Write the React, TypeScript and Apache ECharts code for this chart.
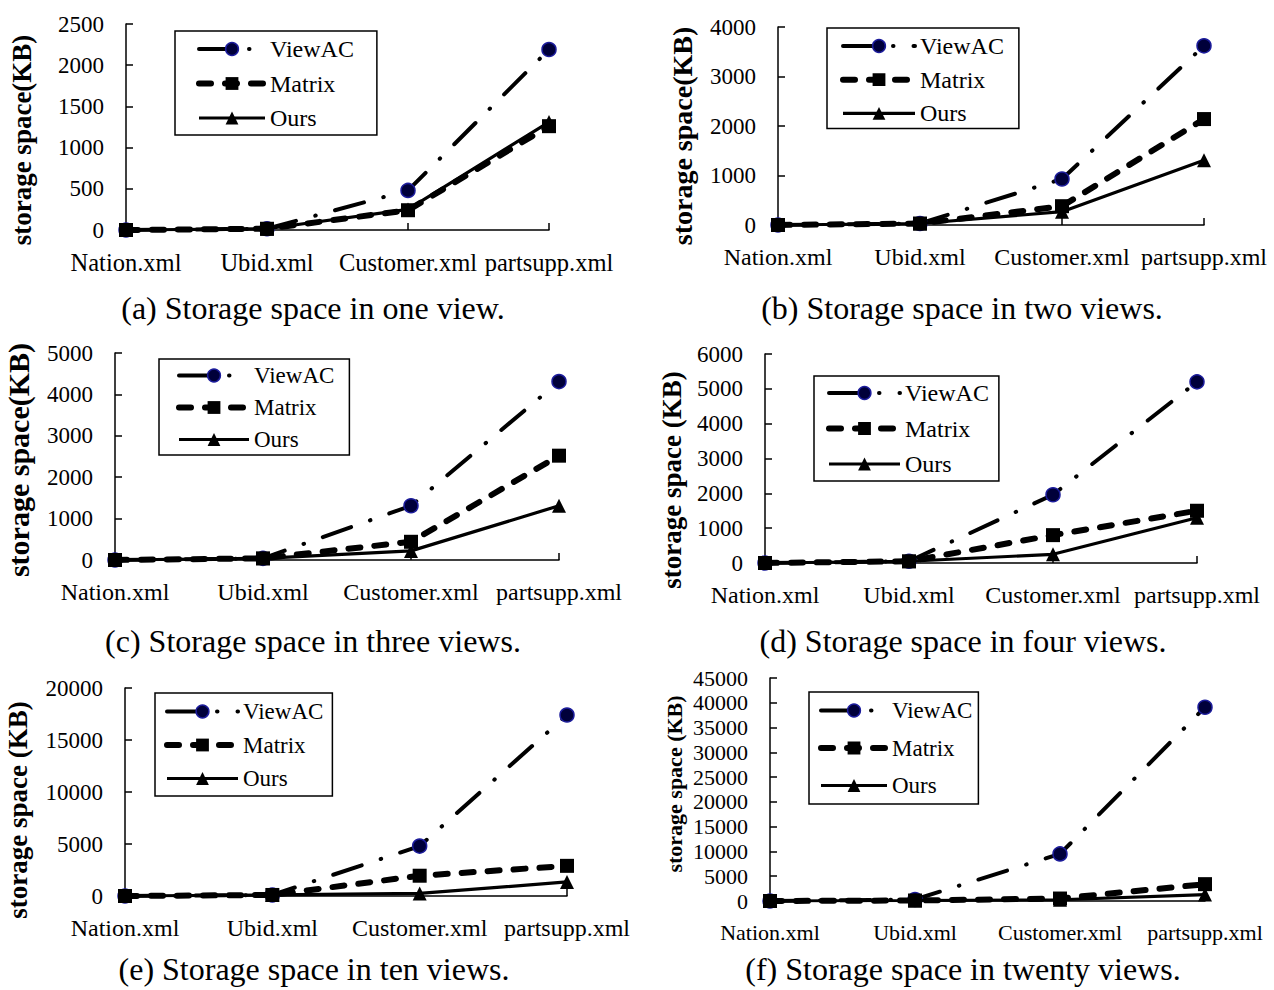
import React, { useEffect, useRef } from "react";
import * as echarts from "echarts";

const FONT = '"Liberation Serif", "Times New Roman", serif';

const categories = ["Nation.xml", "Ubid.xml", "Customer.xml", "partsupp.xml"];
const seriesNames = ["ViewAC", "Matrix", "Ours"];

// values per panel (KB)
const viewAC_a = [0, 15, 480, 2190];
const matrix_a = [0, 15, 240, 1260];
const ours_a = [0, 15, 250, 1310];

const viewAC_b = [0, 30, 930, 3620];
const matrix_b = [0, 30, 380, 2140];
const ours_b = [0, 30, 270, 1310];

const viewAC_c = [0, 40, 1310, 4310];
const matrix_c = [0, 40, 440, 2520];
const ours_c = [0, 40, 220, 1310];

const viewAC_d = [0, 50, 1960, 5200];
const matrix_d = [0, 50, 800, 1500];
const ours_d = [0, 50, 250, 1300];

const viewAC_e = [0, 100, 4800, 17400];
const matrix_e = [0, 100, 1950, 2900];
const ours_e = [0, 100, 250, 1350];

const viewAC_f = [0, 300, 9500, 39100];
const matrix_f = [0, 100, 500, 3400];
const ours_f = [0, 100, 250, 1300];

// y-axis ranges
const yMaxes = [2500, 4000, 5000, 6000, 20000, 45000];
const yIntervals = [500, 1000, 1000, 1000, 5000, 5000];

const captions = [
  "(a) Storage space in one view.",
  "(b) Storage space in two views.",
  "(c) Storage space in three views.",
  "(d) Storage space in four views.",
  "(e) Storage space in ten views.",
  "(f) Storage space in twenty views.",
];
const yNames = [
  "storage space(KB)",
  "storage space(KB)",
  "storage space(KB)",
  "storage space (KB)",
  "storage space (KB)",
  "storage space (KB)",
];

const panelData = [
  [viewAC_a, matrix_a, ours_a],
  [viewAC_b, matrix_b, ours_b],
  [viewAC_c, matrix_c, ours_c],
  [viewAC_d, matrix_d, ours_d],
  [viewAC_e, matrix_e, ours_e],
  [viewAC_f, matrix_f, ours_f],
];

// layout (positions/sizes only)
const layout = [
  { grid: { left: 126, top: 24, width: 423, height: 206 }, xFont: 24.5, yFont: 23, name: { x: 22, y: 140, size: 27 }, cap: { x: 313, y: 308 },
    lg: { left: 175, top: 31, padding: [6, 23, 5, 21], gap: 10.5, iw: 66, font: 24 } },
  { grid: { left: 778, top: 27, width: 426, height: 198 }, xFont: 24, yFont: 23, name: { x: 682, y: 136, size: 28 }, cap: { x: 962, y: 308 },
    lg: { left: 827, top: 28, padding: [6, 15, 3, 13], gap: 9.7, iw: 72, font: 24 } },
  { grid: { left: 115, top: 353, width: 444, height: 207 }, xFont: 24, yFont: 23, name: { x: 18, y: 460, size: 30 }, cap: { x: 313, y: 641 },
    lg: { left: 159, top: 359, padding: [5, 15, 4, 17], gap: 9, iw: 70, font: 23 } },
  { grid: { left: 765, top: 354, width: 432, height: 209 }, xFont: 24, yFont: 23, name: { x: 672, y: 480, size: 27 }, cap: { x: 963, y: 641 },
    lg: { left: 814, top: 376, padding: [5, 10, 5, 12], gap: 11.5, iw: 71, font: 24 } },
  { grid: { left: 125, top: 688, width: 442, height: 208 }, xFont: 24, yFont: 23, name: { x: 18, y: 810, size: 27 }, cap: { x: 314, y: 969 },
    lg: { left: 155, top: 693, padding: [7, 9, 6, 9], gap: 10.5, iw: 71, font: 23 } },
  { grid: { left: 770, top: 678, width: 435, height: 223 }, xFont: 22, yFont: 22, name: { x: 674, y: 784, size: 22 }, cap: { x: 963, y: 969 },
    lg: { left: 809, top: 692, padding: [7, 6, 7, 9], gap: 14.5, iw: 66, font: 23 } },
];

const viewACLine = { color: "#000", width: 4, type: [30, 20, 0.5, 20], cap: "round" };
const matrixLine = { color: "#000", width: 6, type: [12, 14], cap: "round" };
const oursLine = { color: "#000", width: 3.2, type: "solid" };

function buildOption() {
  const grid: any[] = [];
  const xAxis: any[] = [];
  const yAxis: any[] = [];
  const series: any[] = [];
  const legend: any[] = [];
  const graphic: any[] = [];

  layout.forEach((p, i) => {
    grid.push({ ...p.grid });
    xAxis.push({
      type: "category",
      gridIndex: i,
      data: categories,
      boundaryGap: false,
      axisLine: { show: true, lineStyle: { color: "#000", width: 1.5 } },
      axisTick: { show: true, inside: true, length: 7, lineStyle: { color: "#000", width: 1.5 } },
      axisLabel: { interval: 0, margin: 20, color: "#000", fontSize: p.xFont, fontFamily: FONT },
      splitLine: { show: false },
    });
    yAxis.push({
      type: "value",
      gridIndex: i,
      min: 0,
      max: yMaxes[i],
      interval: yIntervals[i],
      axisLine: { show: true, lineStyle: { color: "#000", width: 1.5 } },
      axisTick: { show: true, inside: true, length: 7, lineStyle: { color: "#000", width: 1.5 } },
      axisLabel: {
        margin: 22,
        color: "#000",
        fontSize: p.yFont,
        fontFamily: FONT,
        formatter: (v: number) => String(v),
      },
      splitLine: { show: false },
    });
    const [va, mx, ou] = panelData[i];
    series.push({
      name: "ViewAC", type: "line", xAxisIndex: i, yAxisIndex: i, data: va,
      symbol: "circle", symbolSize: 14, showAllSymbol: true,
      lineStyle: viewACLine,
      itemStyle: { color: "#00003a", borderColor: "#1c1c9c", borderWidth: 1.5 },
      z: 2,
    });
    series.push({
      name: "Matrix", type: "line", xAxisIndex: i, yAxisIndex: i, data: mx,
      symbol: "rect", symbolSize: 14, showAllSymbol: true,
      lineStyle: matrixLine,
      itemStyle: { color: "#000", borderColor: "#000", borderWidth: 0 },
      z: 3,
    });
    series.push({
      name: "Ours", type: "line", xAxisIndex: i, yAxisIndex: i, data: ou,
      symbol: "triangle", symbolSize: 14, showAllSymbol: true,
      lineStyle: oursLine,
      itemStyle: { color: "#000", borderColor: "#000", borderWidth: 0 },
      z: 4,
    });
    legend.push({
      orient: "vertical",
      left: p.lg.left,
      top: p.lg.top,
      padding: p.lg.padding,
      itemGap: p.lg.gap,
      itemWidth: p.lg.iw,
      itemHeight: 16,
      borderColor: "#000",
      borderWidth: 1.5,
      borderRadius: 0,
      backgroundColor: "#fff",
      selectedMode: false,
      textStyle: { fontSize: p.lg.font, fontFamily: FONT, color: "#000" },
      data: [
        { name: seriesNames[0], lineStyle: { ...viewACLine }, itemStyle: { color: "#00003a", borderColor: "#1c1c9c", borderWidth: 1.5 } },
        { name: seriesNames[1], lineStyle: { ...matrixLine }, itemStyle: { color: "#000", borderWidth: 0 } },
        { name: seriesNames[2], lineStyle: { ...oursLine }, itemStyle: { color: "#000", borderWidth: 0 } },
      ],
    });
    graphic.push({
      type: "text",
      x: p.name.x,
      y: p.name.y,
      rotation: Math.PI / 2,
      style: {
        text: yNames[i],
        font: `bold ${p.name.size}px ${FONT}`,
        fill: "#000",
        align: "center",
        verticalAlign: "middle",
        textAlign: "center",
        textVerticalAlign: "middle",
      },
    });
    graphic.push({
      type: "text",
      x: p.cap.x,
      y: p.cap.y,
      style: {
        text: captions[i],
        font: `32px ${FONT}`,
        fill: "#000",
        align: "center",
        verticalAlign: "middle",
        textAlign: "center",
        textVerticalAlign: "middle",
      },
    });
  });

  return {
    animation: false,
    backgroundColor: "#fff",
    grid,
    xAxis,
    yAxis,
    series,
    legend,
    graphic,
  };
}

export default function App() {
  const ref = useRef<HTMLDivElement>(null);
  useEffect(() => {
    if (!ref.current) return;
    const chart = echarts.init(ref.current, null, { renderer: "svg" });
    chart.setOption(buildOption() as any);
    return () => chart.dispose();
  }, []);
  return (
    <div
      ref={ref}
      style={{ position: "absolute", left: 0, top: 0, width: 1274, height: 990, background: "#fff" }}
    />
  );
}
